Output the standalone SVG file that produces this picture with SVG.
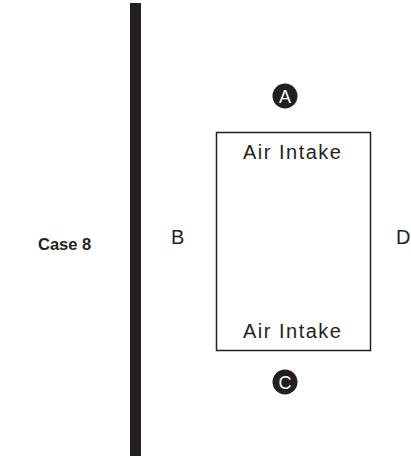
<svg xmlns="http://www.w3.org/2000/svg" width="411" height="458" viewBox="0 0 411 458">
<style>
.t{font-family:"Liberation Sans",Arial,sans-serif;font-size:20px;fill:#231f20}
.b{font-family:"Liberation Sans",Arial,sans-serif;font-size:16.5px;font-weight:bold;fill:#231f20}
.c{font-family:"Liberation Sans",Arial,sans-serif;font-size:18px;fill:#ffffff;text-anchor:middle}
</style>
<rect x="0" y="0" width="411" height="458" fill="#ffffff"/>
<g id="wall"><rect x="130" y="3" width="11" height="453" fill="#231f20"/></g>
<g id="case-label"><text class="b" x="38" y="250">Case 8</text></g>
<g id="label-B"><text class="t" x="171" y="244">B</text></g>
<g id="label-D"><text class="t" x="396" y="244">D</text></g>
<g id="box">
<rect x="216.5" y="132.5" width="154" height="218" fill="none" stroke="#231f20" stroke-width="1.5"/>
<text class="t" x="243" y="159" letter-spacing="1.5">Air Intake</text>
<text class="t" x="243" y="338" letter-spacing="1.5">Air Intake</text>
</g>
<g id="marker-A"><circle cx="285" cy="96" r="12.5" fill="#231f20"/><text class="c" x="285" y="102.5">A</text></g>
<g id="marker-C"><circle cx="285" cy="382" r="12.5" fill="#231f20"/><text class="c" x="285" y="388.5">C</text></g>
<g id="connectors"/>
</svg>
